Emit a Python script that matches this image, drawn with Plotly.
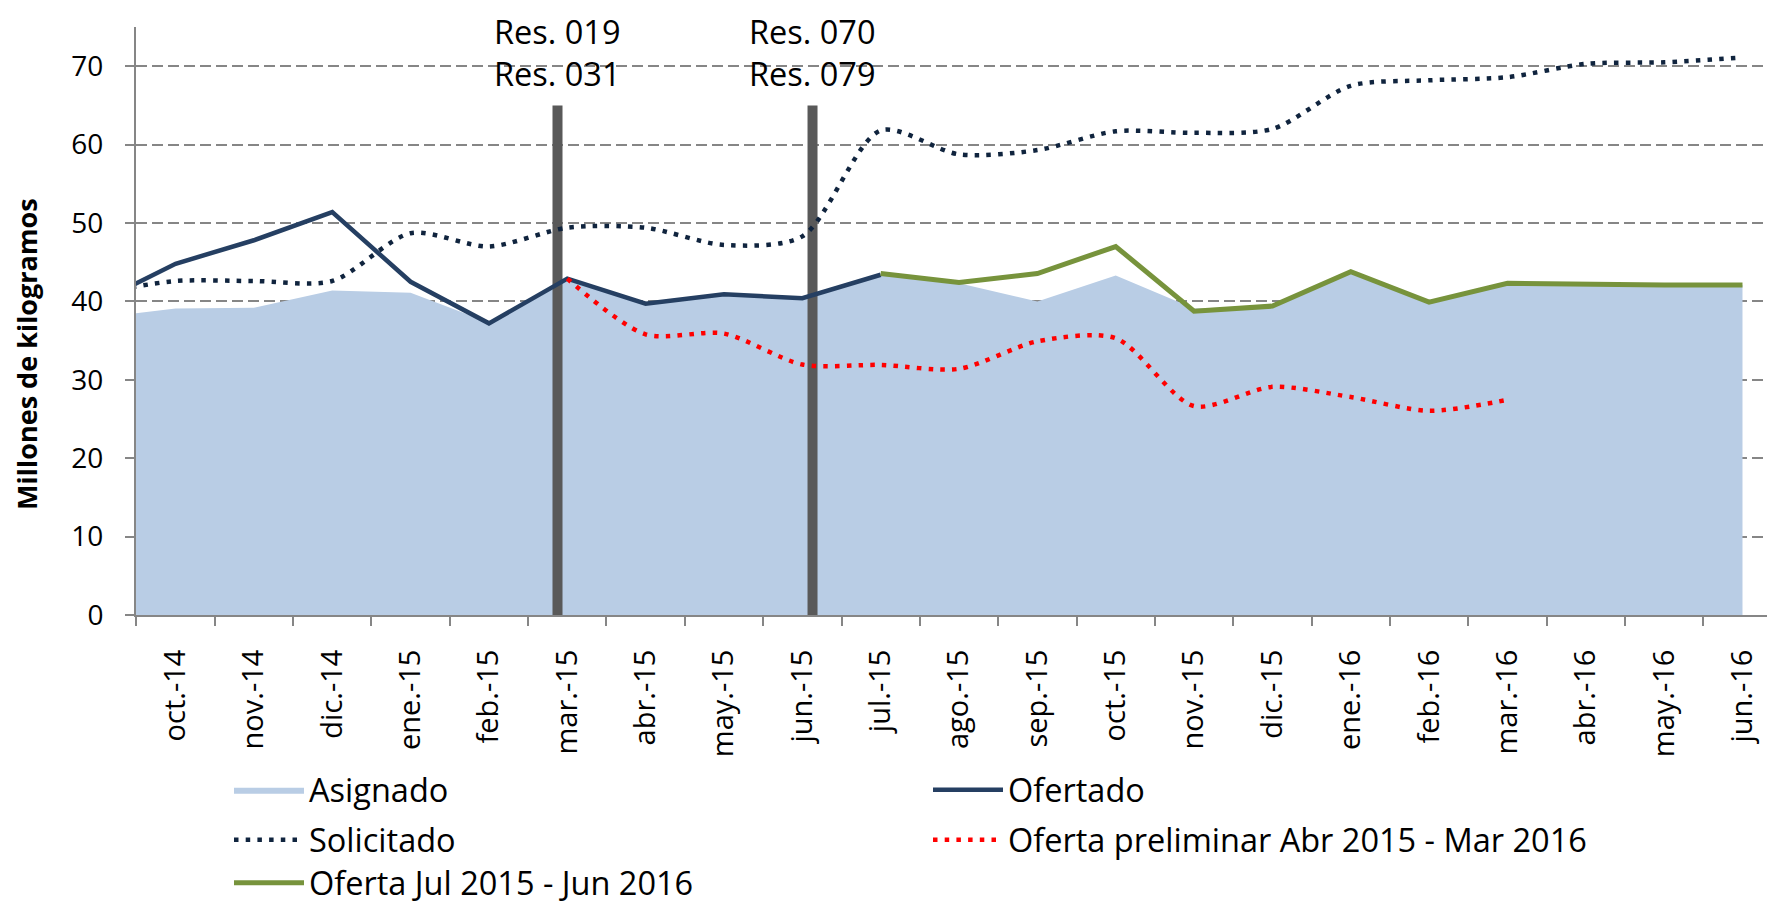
import plotly.graph_objects as go

# Month index: -1 = sep.-14 (only used so the lines enter from the left edge), 0 = oct.-14 ... 20 = jun.-16
month_idx = list(range(-1, 21))
month_labels = ["oct.-14", "nov.-14", "dic.-14", "ene.-15", "feb.-15", "mar.-15", "abr.-15",
                "may.-15", "jun.-15", "jul.-15", "ago.-15", "sep.-15", "oct.-15", "nov.-15",
                "dic.-15", "ene.-16", "feb.-16", "mar.-16", "abr.-16", "may.-16", "jun.-16"]

asignado = [37.9, 39.1, 39.2, 41.4, 41.1, 37.3, 42.9, 39.7, 40.9, 40.4, 43.4,
            42.3, 40.0, 43.3, 39.1, 39.4, 43.8, 39.9, 42.3, 42.1, 42.1, 42.1]
ofertado = [39.8, 44.8, 47.8, 51.4, 42.5, 37.2, 42.9, 39.7, 40.9, 40.4, 43.4,
            None, None, None, None, None, None, None, None, None, None, None]
solicitado = [41.0, 42.6, 42.6, 42.6, 48.7, 47.0, 49.4, 49.4, 47.2, 48.3, 61.8,
              58.75, 59.3, 61.7, 61.5, 62.0, 67.5, 68.2, 68.6, 70.3, 70.5, 71.1]
oferta_prelim = [None, None, None, None, None, None, 42.9, 35.8, 35.9, 31.95, 31.9,
                 31.4, 34.9, 35.3, 26.65, 29.1, 27.8, 26.05, 27.45, None, None, None]
oferta_jul = [None, None, None, None, None, None, None, None, None, None, 43.55,
              42.4, 43.55, 47.0, 38.75, 39.4, 43.8, 39.9, 42.3, 42.15, 42.1, 42.1]

# Resolution markers (month-index position, height, labels)
res_pos = [4.875, 8.13]
res_top = 65
res_labels = ["Res. 019<br>Res. 031", "Res. 070<br>Res. 079"]

FONT = "Open Sans"
GRAY = "#868686"

W, H = 1767, 897   # page adds an 8px body margin

fig = go.Figure()

fig.add_trace(go.Scatter(
    x=month_idx, y=asignado, name="Asignado", mode="lines",
    line=dict(width=0, color="#B9CDE5"), fill="tozeroy", fillcolor="#B9CDE5",
    legend="legend", hoverinfo="skip"))

rx, ry = [], []
for p in res_pos:
    rx += [p, p, None]
    ry += [0, res_top, None]
fig.add_trace(go.Scatter(x=rx, y=ry, mode="lines", line=dict(color="#595959", width=10),
                         showlegend=False, hoverinfo="skip"))

fig.add_trace(go.Scatter(
    x=month_idx, y=ofertado, name="Ofertado", mode="lines",
    line=dict(color="#253F62", width=4.5), legend="legend"))
fig.add_trace(go.Scatter(
    x=month_idx, y=solicitado, name="Solicitado", mode="lines",
    line=dict(color="#10243E", width=4.5, dash="4.5px,7.2px", shape="spline", smoothing=0.8),
    legend="legend2"))
fig.add_trace(go.Scatter(
    x=month_idx, y=oferta_prelim, name="Oferta preliminar Abr 2015 - Mar 2016", mode="lines",
    line=dict(color="#FF0000", width=4.5, dash="4.5px,7.2px", shape="spline", smoothing=0.8),
    legend="legend2"))
fig.add_trace(go.Scatter(
    x=month_idx, y=oferta_jul, name="Oferta Jul 2015 - Jun 2016", mode="lines",
    line=dict(color="#77933C", width=5), legend="legend3"))

top_paper = 1 + 19 / 588.2   # figure top edge in paper units
for p, t in zip(res_pos, res_labels):
    fig.add_annotation(x=p, y=top_paper, xref="x", yref="paper", text=t, showarrow=False,
                       xanchor="center", yanchor="top", borderpad=0,
                       font=dict(family=FONT, size=32.5, color="black"))

fig.add_annotation(x=-0.0665, y=0.444, xref="paper", yref="paper", text="<b>Millones de kilogramos</b>",
                   textangle=-90, showarrow=False, xanchor="center", yanchor="middle",
                   font=dict(family=FONT, size=27, color="black"))

leg_common = dict(orientation="h", xanchor="left", yanchor="middle", bgcolor="rgba(0,0,0,0)",
                  xref="container", yref="container",
                  font=dict(family=FONT, size=32.5, color="black"), entrywidth=614,
                  entrywidthmode="pixels", itemwidth=70)
lx = (229 - 8) / W

fig.update_layout(
    width=W, height=H,
    margin=dict(l=128, r=0, t=19, b=290, autoexpand=False),
    paper_bgcolor="white", plot_bgcolor="white",
    font=dict(family=FONT, size=28, color="black"),
    showlegend=True,
    legend=dict(x=lx, y=1 - (790 - 8) / H, **leg_common),
    legend2=dict(x=lx, y=1 - (840 - 8) / H, **leg_common),
    legend3=dict(x=lx, y=1 - (883 - 8) / H, **leg_common),
    xaxis=dict(
        range=[-0.505, 20.415], tickmode="array", tickvals=list(range(21)), ticktext=month_labels,
        tickangle=-90, ticks="outside", ticklen=9, tickcolor="rgba(0,0,0,0)", ticklabelstandoff=12,
        tickfont=dict(family=FONT, size=29, color="black"),
        showline=True, linecolor=GRAY, linewidth=2, showgrid=False, zeroline=False,
        minor=dict(tickmode="array", tickvals=[i - 0.5 for i in range(22)], ticks="outside",
                   ticklen=9, tickwidth=2, tickcolor=GRAY, showgrid=False),
    ),
    yaxis=dict(
        range=[0, 75], tickmode="array", tickvals=list(range(0, 71, 10)),
        ticks="outside", ticklen=9, tickwidth=2, tickcolor=GRAY, ticklabelstandoff=16,
        tickfont=dict(family=FONT, size=28, color="black"),
        showline=True, linecolor=GRAY, linewidth=2, zeroline=False,
        showgrid=True, gridcolor=GRAY, gridwidth=2, griddash="11px,5px",
    ),
)

fig.write_html("out.html")
